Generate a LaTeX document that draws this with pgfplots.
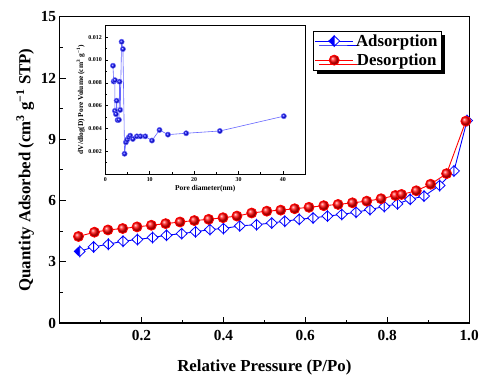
\documentclass[border=0pt]{standalone}
\usepackage{fontspec}
\setmainfont{Liberation Serif}
\usepackage{pgfplots}
\pgfplotsset{compat=1.18}
\usetikzlibrary{shadows}

\pgfdeclareplotmark{halfdiamond}{%
  \pgfpathmoveto{\pgfqpoint{0pt}{0.95\pgfplotmarksize}}%
  \pgfpathlineto{\pgfqpoint{-\pgfplotmarksize}{0pt}}%
  \pgfpathlineto{\pgfqpoint{0pt}{-0.95\pgfplotmarksize}}%
  \pgfpathclose
  \pgfusepathqfillstroke
  \pgfsetfillcolor{white}%
  \pgfpathmoveto{\pgfqpoint{0pt}{0.95\pgfplotmarksize}}%
  \pgfpathlineto{\pgfqpoint{\pgfplotmarksize}{0pt}}%
  \pgfpathlineto{\pgfqpoint{0pt}{-0.95\pgfplotmarksize}}%
  \pgfpathclose
  \pgfusepathqfillstroke
}

\pgfplotstableread{
x y
0.049 3.51
0.083 3.73
0.119 3.86
0.155 4.01
0.190 4.09
0.227 4.19
0.261 4.30
0.298 4.38
0.332 4.47
0.367 4.58
0.400 4.63
0.440 4.76
0.481 4.82
0.518 4.90
0.550 4.99
0.585 5.08
0.619 5.15
0.654 5.24
0.689 5.32
0.724 5.43
0.758 5.56
0.793 5.71
0.825 5.84
0.856 6.06
0.890 6.22
0.928 6.74
0.963 7.45
0.995 9.92
}\adsorption

\pgfplotstableread{
x y
0.046 4.24
0.085 4.45
0.118 4.56
0.154 4.63
0.189 4.71
0.224 4.79
0.259 4.87
0.294 4.95
0.329 5.02
0.364 5.08
0.399 5.16
0.433 5.24
0.469 5.39
0.506 5.48
0.540 5.53
0.574 5.60
0.609 5.67
0.645 5.75
0.680 5.81
0.715 5.89
0.750 5.97
0.785 6.09
0.820 6.25
0.835 6.30
0.871 6.48
0.906 6.80
0.945 7.32
0.992 9.89
}\desorption

\pgfplotstableread{
x y
1.72 0.00950
1.87 0.00812
2.16 0.00823
2.16 0.00554
2.39 0.00525
2.54 0.00643
2.76 0.00473
3.06 0.00475
3.20 0.00810
3.36 0.00562
3.66 0.01160
3.96 0.01096
4.33 0.00177
4.63 0.00278
4.93 0.00301
5.30 0.00322
5.60 0.00336
6.20 0.00307
7.10 0.00330
7.90 0.00330
9.00 0.00330
10.5 0.00293
12.2 0.00386
14.1 0.00345
18.2 0.00357
25.8 0.00377
40.2 0.00507
}\poresize

\begin{document}
\begin{tikzpicture}
\begin{axis}[
  scale only axis, width=412bp, height=308bp,
  xmin=0, xmax=1.0, ymin=0, ymax=15,
  xtick={0.2,0.4,0.6,0.8,1.0}, minor xtick={0.1,0.3,0.5,0.7,0.9},
  ytick={0,3,6,9,12,15}, minor ytick={1.5,4.5,7.5,10.5,13.5},
  xticklabel style={yshift=-4bp, /pgf/number format/.cd, fixed, fixed zerofill, precision=1},
  tick align=inside, xtick pos=bottom, ytick pos=left,
  major tick length=6bp, minor tick length=3.5bp,
  axis line style={line width=1.2bp},
  every tick/.style={black, line width=1bp},
  /pgf/number format/assume math mode=true,
  ticklabel style={font=\bfseries\fontsize{15.5}{15.5}\selectfont},
  label style={font=\bfseries\fontsize{17}{17}\selectfont},
  xlabel={Relative Pressure (P/Po)},
  ylabel={Quantity Adsorbed (cm\textsuperscript{3} g\textsuperscript{−1} STP)},
  xlabel style={yshift=-12bp},
  legend style={at={(0.619,0.955)}, anchor=north west, draw=black, line width=0.6bp, fill=white,
    font=\bfseries\fontsize{17}{17}\selectfont,
    drop shadow={shadow xshift=4bp, shadow yshift=-4bp, fill=black, opacity=1},
    inner sep=1.5bp, row sep=2bp, nodes={inner xsep=2.5bp}},
  legend image code/.code={\draw[mark repeat=2,mark phase=2] plot coordinates {(0cm,0cm) (0.67cm,0cm) (1.34cm,0cm)};},
]
\addplot[blue, line width=0.9bp, mark=halfdiamond, mark size=5.5bp, mark options={solid, fill=blue, draw=blue, line width=0.8bp}] table {\adsorption};
\addlegendentry{Adsorption}
\addplot[red, line width=0.9bp, mark=ball, mark size=5bp, mark options={ball color=red}] table {\desorption};
\addlegendentry{Desorption}
\end{axis}
\begin{axis}[
  at={(46bp,150bp)}, anchor=south west,
  scale only axis, width=201bp, height=149bp,
  xmin=0, xmax=45, ymin=0, ymax=0.013,
  xtick={0,10,20,30,40}, minor xtick={5,15,25,35},
  ytick={0.002,0.004,0.006,0.008,0.010,0.012}, minor ytick={0.001,0.003,0.005,0.007,0.009,0.011},
  scaled y ticks=false,
  yticklabel style={/pgf/number format/.cd, fixed, fixed zerofill, precision=3},
  tick align=inside, xtick pos=bottom, ytick pos=left,
  major tick length=3bp, minor tick length=1.8bp,
  axis line style={line width=0.8bp},
  every tick/.style={black, line width=0.6bp},
  /pgf/number format/assume math mode=true,
  ticklabel style={font=\bfseries\fontsize{6}{6}\selectfont},
  label style={font=\bfseries\fontsize{7.5}{7.5}\selectfont},
  xlabel={Pore diameter(nm)},
  ylabel={dV/dlog(D) Pore Volume (cm\textsuperscript{3} g\textsuperscript{−1})},
  xlabel style={yshift=3bp}, ylabel style={yshift=-3bp},
  axis background/.style={fill=white},
]
\addplot[blue!60, line width=0.6bp, mark=ball, mark size=2.6bp, mark options={ball color=blue}] table {\poresize};
\end{axis}
\path[use as bounding box] (-60bp,-48bp) rectangle (422bp,325bp);
\end{tikzpicture}
\end{document}
